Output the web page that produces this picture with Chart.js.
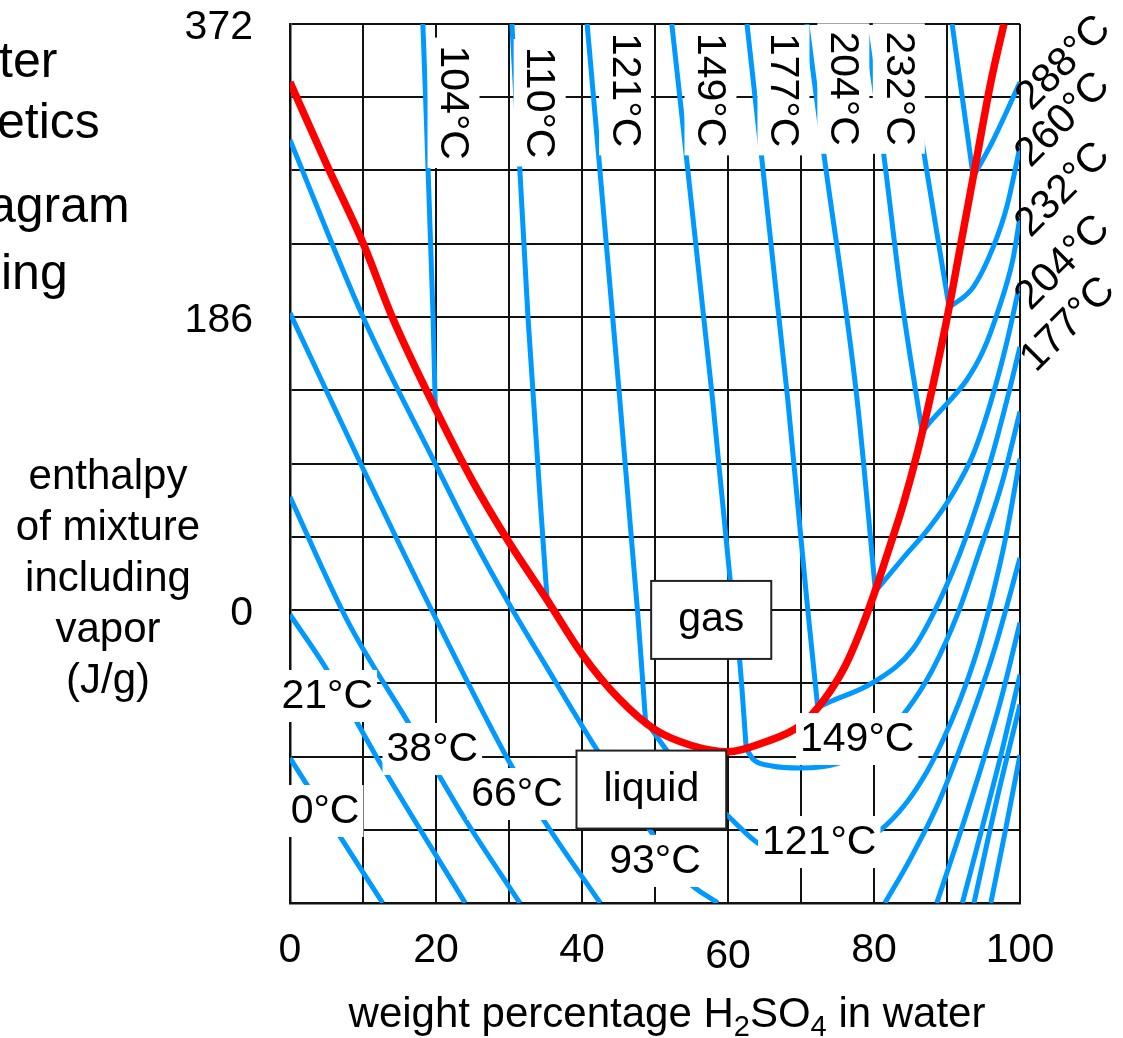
<!DOCTYPE html>
<html>
<head>
<meta charset="utf-8">
<title>Sulfuric acid / water enthalpy diagram</title>
<script src="https://cdn.jsdelivr.net/npm/chart.js@4.4.1/dist/chart.umd.min.js"></script>
<style>
  body { margin: 0; background: #fff; overflow: hidden; }
  canvas { display: block; }
</style>
</head>
<body>
<canvas id="chart" width="1123" height="1038"></canvas>
<script>
'use strict';

const fontFamily = '"Liberation Sans", Arial, Helvetica, sans-serif';
const blue = '#0099ff';
const red = '#ff0000';

// axes: weight % H2SO4 and enthalpy in J/g
const xMin = 0, xMax = 100, xStep = 10;
const yMin = -186, yMax = 372, yStep = 46.5;
const xTickLabels = [0, 20, 40, 60, 80, 100];
const xLoweredTick = 60;
const yTickLabels = [0, 186, 372];

// boiling curve [wt%, J/g]
const boiling = [[0, 335], [5, 283], [10, 233], [14, 186], [20, 127], [25, 82], [30, 43], [35, 8],
  [40, -28], [45, -56], [50, -76], [55, -86], [60, -90], [65, -84], [70, -73], [73, -58], [76, -36],
  [78, -15], [80, 10], [82, 38], [84, 67], [86, 101], [88, 141], [90, 185], [92, 235], [94, 285],
  [96, 335], [97.8, 372]];

// isotherms above the boiling curve
const vap104 = [[18.2, 372], [19.6, 186], [19.9, 129]];
const vap110 = [[30.4, 372], [32.6, 186], [35.2, 8]];
const vap121 = [[40.7, 372], [44.2, 186], [47.7, -6], [48.7, -70]];
const vap149 = [[52.3, 372], [57.9, 133], [60.3, 19], [61.6, -32], [62.5, -88]];
const vap177 = [[62.6, 372], [68.2, 133], [70.8, 6], [72.3, -62]];
const vap204 = [[70.8, 372], [73, 294], [77.7, 133], [80.2, 12]];
const vap232 = [[78.8, 372], [81.2, 294], [83.8, 197], [86.6, 113]];
const vap260 = [[84.2, 372], [86.7, 294], [90.3, 192]];
const vap288 = [[90.7, 372], [93.6, 275]];

// isotherms of the liquid (a = left branch, b = right branch)
const liq0a = [[0, -94], [6.6, -142], [12.7, -186]];
const liq0b = [[96, -186], [98, -140], [100, -92]];
const liq21a = [[0, -3], [4.8, -36], [12.7, -100], [24, -186]];
const liq21b = [[93.7, -186], [96.8, -121], [100, -60]];
const liq38a = [[0, 71.7], [8, -8], [16.4, -73], [24, -133], [31.5, -186]];
const liq38b = [[92.1, -186], [95, -135], [97.5, -90], [100, -41]];
const liq66a = [[0, 188.5], [9.9, 90.8], [19.6, -1.9], [30.1, -97], [34.7, -133], [42.5, -186]];
const liq66b = [[88.6, -186], [91.8, -141.6], [95, -95], [97.5, -55], [100, -8]];
const liq93a = [[0, 298.4], [10, 186], [20, 92], [25, 46], [30, 4], [35, -35], [41.4, -84], [48.9, -137],
  [54.4, -172], [58.6, -186]];
const liq93b = [[81.5, -186], [84.9, -158.6], [89, -120.6], [93.2, -70], [96.5, -25], [100, 33]];
const liq121 = [[48.7, -70], [51.6, -89], [56, -112], [60.3, -132], [64.1, -148], [68, -155], [72, -156],
  [76, -151], [80.8, -140], [84.5, -122], [87.2, -103], [89.4, -83], [91.8, -57], [94, -28], [96, 5],
  [98, 45], [100, 96]];
const liq149 = [[62.5, -88], [63.5, -95], [66, -99], [69.9, -100.3], [75.3, -97], [80, -86], [84.5, -63.5],
  [88, -38], [91.5, -2], [94.5, 38], [97.5, 80], [100, 126]];
const liq177 = [[72.3, -62], [73.6, -59], [79.9, -46], [85.3, -25], [89, 6], [92.5, 45], [96, 95],
  [98.2, 133], [100, 167]];
const liq204 = [[80.2, 12], [84, 33], [87.7, 53], [90.8, 74], [93.6, 99], [96, 132], [98.2, 170], [100, 207.6]];
const liq232 = [[86.6, 113], [88, 121], [90, 131], [92.7, 146], [95, 165], [97, 190], [99, 222], [100, 249.5]];
const liq260 = [[90.3, 192], [93.6, 205], [96.3, 230], [98.2, 256], [100, 294]];
const liq288 = [[93.6, 275], [96.3, 298], [100, 335]];

const vaporLines = [vap104, vap110, vap121, vap149, vap177, vap204, vap232, vap260, vap288];
const liquidLines = [liq0a, liq0b, liq21a, liq21b, liq38a, liq38b, liq66a, liq66b, liq93a, liq93b,
  liq121, liq149, liq177, liq204, liq232, liq260, liq288];

// labels: [text, wt%, J/g]
const topLabels = [['104°C', 22.4, 322], ['110°C', 34.2, 322], ['121°C', 45.9, 330], ['149°C', 57.6, 330],
  ['177°C', 67.6, 330], ['204°C', 75.8, 331], ['232°C', 83.4, 331]];
const innerLabels = [['21°C', 5.1, -54.6], ['38°C', 19.5, -88.2], ['66°C', 31.1, -116.8], ['0°C', 4.8, -127.6],
  ['93°C', 50, -159.3], ['121°C', 72.5, -147.3], ['149°C', 77.7, -81.9]];
const rightLabels = [['288°C', 106, 347], ['260°C', 105.9, 311], ['232°C', 105.9, 266.6],
  ['204°C', 105.9, 220.3], ['177°C', 106.6, 181]];
const phaseLabels = [['gas', 57.7, -6.3], ['liquid', 49.5, -114]];

const yTitle = ['enthalpy', 'of mixture', 'including', 'vapor', '(J/g)'];
const xTitle = [['weight percentage H', false], ['2', true], ['SO', false], ['4', true], [' in water', false]];
const cutText = [['ter', -1, 77], ['etics', -3, 138], ['agram', -12, 222], ['ing', 1, 289]];

function curve(pairs, color, width) {
    return {
        data: pairs.map(p => ({ x: p[0], y: p[1] })),
        showLine: true,
        borderColor: color,
        borderWidth: width,
        pointRadius: 0,
        pointHoverRadius: 0,
        cubicInterpolationMode: 'monotone',
        clip: 0
    };
}

function boxedLabel(ctx, text, x, y, angle) {
    const w = ctx.measureText(text).width;
    const pad = angle ? 8 : 4;
    ctx.save();
    ctx.translate(x, y);
    ctx.rotate(angle);
    ctx.fillStyle = '#fff';
    ctx.fillRect(-w / 2 - pad, -26, w + 2 * pad, 52);
    ctx.fillStyle = '#000';
    ctx.fillText(text, 0, 1);
    ctx.restore();
}

function framedLabel(ctx, text, x, y) {
    const w = ctx.measureText(text).width + 54;
    const h = 78;
    ctx.fillStyle = '#fff';
    ctx.fillRect(x - w / 2, y - h / 2, w, h);
    ctx.strokeStyle = '#222';
    ctx.lineWidth = 2;
    ctx.strokeRect(x - w / 2, y - h / 2, w, h);
    ctx.fillStyle = '#000';
    ctx.fillText(text, x, y);
}

const labelPlugin = {
    id: 'diagramLabels',
    afterDatasetsDraw(chart) {
        const ctx = chart.ctx;
        const xs = chart.scales.x;
        const ys = chart.scales.y;
        ctx.save();
        ctx.font = '41px ' + fontFamily;
        ctx.textAlign = 'center';
        ctx.textBaseline = 'middle';
        topLabels.forEach(l => boxedLabel(ctx, l[0], xs.getPixelForValue(l[1]), ys.getPixelForValue(l[2]), Math.PI / 2));
        innerLabels.forEach(l => boxedLabel(ctx, l[0], xs.getPixelForValue(l[1]), ys.getPixelForValue(l[2]), 0));
        phaseLabels.forEach(l => framedLabel(ctx, l[0], xs.getPixelForValue(l[1]), ys.getPixelForValue(l[2])));
        ctx.restore();
    },
    afterDraw(chart) {
        const ctx = chart.ctx;
        const xs = chart.scales.x;
        const ys = chart.scales.y;
        const area = chart.chartArea;
        ctx.save();
        ctx.fillStyle = '#000';
        ctx.textAlign = 'center';
        ctx.textBaseline = 'middle';
        ctx.font = '41px ' + fontFamily;
        rightLabels.forEach(l => {
            ctx.save();
            ctx.translate(xs.getPixelForValue(l[1]), ys.getPixelForValue(l[2]));
            ctx.rotate(-Math.PI / 4);
            ctx.fillText(l[0], 0, 0);
            ctx.restore();
        });

        // the lowered "60" tick label
        ctx.fillText(String(xLoweredTick), xs.getPixelForValue(xLoweredTick), area.bottom + 54);

        // y axis title
        ctx.textBaseline = 'alphabetic';
        ctx.font = '42px ' + fontFamily;
        yTitle.forEach((t, i) => ctx.fillText(t, 108, 489 + i * 51));

        // x axis title with subscripts
        const mainFont = '42px ' + fontFamily;
        const subFont = '29px ' + fontFamily;
        let total = 0;
        xTitle.forEach(p => {
            ctx.font = p[1] ? subFont : mainFont;
            total += ctx.measureText(p[0]).width;
        });
        let x = (area.left + area.right) / 2 - total / 2 + 12;
        ctx.textAlign = 'left';
        xTitle.forEach(p => {
            ctx.font = p[1] ? subFont : mainFont;
            ctx.fillText(p[0], x, p[1] ? 1036 : 1027);
            x += ctx.measureText(p[0]).width;
        });

        // title text cut off at the left edge
        ctx.font = '50px ' + fontFamily;
        cutText.forEach(t => ctx.fillText(t[0], t[1], t[2]));
        ctx.restore();
    }
};

function createChart() {
    const datasets = [curve(boiling, red, 7.5)];
    vaporLines.forEach(l => datasets.push(curve(l, blue, 5)));
    liquidLines.forEach(l => datasets.push(curve(l, blue, 5)));

    return new Chart(document.getElementById('chart'), {
        type: 'scatter',
        data: { datasets: datasets },
        options: {
            responsive: false,
            animation: false,
            events: [],
            layout: { padding: { left: 0, right: 103, top: 24, bottom: 0 } },
            scales: {
                x: {
                    type: 'linear',
                    min: xMin,
                    max: xMax,
                    afterFit: s => { s.height = 135; s.paddingLeft = 0; s.paddingRight = 0; },
                    grid: { color: '#111', lineWidth: 2, drawTicks: false },
                    border: { color: '#111', width: 2.5 },
                    ticks: {
                        stepSize: xStep,
                        autoSkip: false,
                        maxRotation: 0,
                        padding: 23,
                        color: '#000',
                        font: { family: fontFamily, size: 41 },
                        callback: v => (xTickLabels.includes(v) && v !== xLoweredTick) ? String(v) : ''
                    }
                },
                y: {
                    type: 'linear',
                    min: yMin,
                    max: yMax,
                    // keep the label padding from pushing the plot area down
                    afterFit: s => { s.width = 290; s.paddingTop = 0; s.paddingBottom = 0; },
                    grid: { color: '#111', lineWidth: 2, drawTicks: false },
                    border: { color: '#111', width: 2.5 },
                    ticks: {
                        stepSize: yStep,
                        autoSkip: false,
                        padding: 37,
                        labelOffset: 4,
                        color: '#000',
                        font: { family: fontFamily, size: 41, lineHeight: 1 },
                        callback: v => yTickLabels.includes(v) ? String(v) : ''
                    }
                }
            },
            plugins: {
                legend: { display: false },
                tooltip: { enabled: false }
            }
        },
        plugins: [labelPlugin]
    });
}

createChart();
</script>
</body>
</html>
